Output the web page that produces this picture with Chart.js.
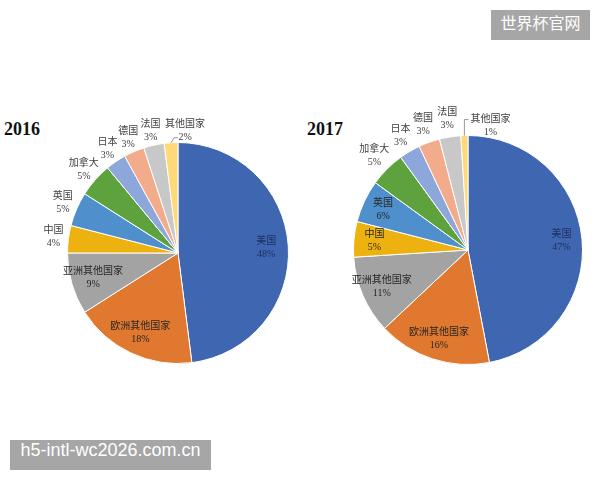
<!DOCTYPE html>
<html>
<head>
<meta charset="utf-8">
<script src="https://cdn.jsdelivr.net/npm/chart.js@4"></script>
<style>
  body { margin: 0; background: #fff; width: 600px; height: 480px; position: relative; overflow: hidden; }
  .box { position: absolute; }
  .year { position: absolute; font: bold 18px 'Liberation Serif', serif; color: #111; }
  .badge { position: absolute; background: #a6a6a6; color: #fff; text-align: center; }
</style>
</head>
<body>
<div class="year" style="left:4px; top:119px;">2016</div>
<div class="year" style="left:307px; top:119px;">2017</div>
<div class="box" style="left:0; top:100px; width:300px; height:290px;"><canvas id="pie-2016"></canvas></div>
<div class="box" style="left:300px; top:100px; width:300px; height:290px;"><canvas id="pie-2017"></canvas></div>
<div class="badge" style="left:491px; top:10px; width:99px; height:30px; line-height:30px; font:16px 'Noto Sans CJK SC', sans-serif;">世界杯官网</div>
<div class="badge" style="left:10px; top:440px; width:201px; height:30px; line-height:30px; font:18px 'Liberation Sans', sans-serif;">h5-intl-wc2026.com.cn</div>
<script>
// share of respondents by country, clockwise from 12 o'clock
const categories = ['美国', '欧洲其他国家', '亚洲其他国家', '中国', '英国', '加拿大', '日本', '德国', '法国', '其他国家'];
const share2016 = [48, 18, 9, 4, 5, 5, 3, 3, 3, 2];
const share2017 = [47, 16, 11, 5, 6, 5, 3, 3, 3, 1];
const sliceColors = ['#3f67b1', '#e0782f', '#a3a3a3', '#edb20f', '#4e8fcc', '#5ea23e', '#8ea7da', '#f2ac8c', '#c8c8c8', '#ffd87a'];

const labelFont = "10px 'Liberation Serif', 'Noto Sans CJK SC', serif";

// draws "name / value%" for every slice, inside or just outside the pie
const sliceLabels = {
  id: 'sliceLabels',
  afterDatasetsDraw(chart, args, opts) {
    const ctx = chart.ctx;
    const values = chart.data.datasets[0].data;
    ctx.save();
    ctx.font = labelFont;
    ctx.textAlign = 'center';
    ctx.textBaseline = 'middle';
    chart.getDatasetMeta(0).data.forEach((arc, i) => {
      const { x, y, startAngle, endAngle, outerRadius } =
        arc.getProps(['x', 'y', 'startAngle', 'endAngle', 'outerRadius'], true);
      const mid = (startAngle + endAngle) / 2;
      const cos = Math.cos(mid), sin = Math.sin(mid);
      let lx, ly;
      if (opts.leader && opts.leader.index === i) {
        const L = opts.leader;
        const ex = x + cos * outerRadius, ey = y + sin * outerRadius;
        ctx.strokeStyle = '#7f7f7f';
        ctx.lineWidth = 0.8;
        ctx.beginPath();
        ctx.moveTo(ex, ey);
        ctx.lineTo(ex + L.elbow[0], ey + L.elbow[1]);
        ctx.lineTo(ex + L.end[0], ey + L.end[1]);
        ctx.stroke();
        lx = ex + L.text[0];
        ly = ey + L.text[1];
        ctx.fillStyle = '#404040';
      } else if (i < opts.insideCount) {
        const r = outerRadius * opts.insideRatio;
        lx = x + cos * r;
        ly = y + sin * r;
        ctx.fillStyle = i === 0 ? '#1c2d5a' : '#262626';
      } else {
        const r = outerRadius + opts.outsideGap;
        lx = x + cos * r;
        ly = y + sin * r;
        ctx.fillStyle = '#404040';
      }
      ctx.fillText(categories[i], lx, ly - 6.5);
      ctx.fillText(values[i] + '%', lx, ly + 6.5);
    });
    ctx.restore();
  }
};

function makePie(id, data, padding, labelOpts) {
  return new Chart(document.getElementById(id), {
    type: 'pie',
    data: {
      labels: categories,
      datasets: [{
        data,
        backgroundColor: sliceColors,
        borderColor: '#ffffff',
        borderWidth: 1
      }]
    },
    options: {
      responsive: true,
      maintainAspectRatio: false,
      animation: false,
      layout: { padding },
      plugins: {
        legend: { display: false },
        tooltip: { enabled: false },
        sliceLabels: labelOpts
      }
    },
    plugins: [sliceLabels]
  });
}

makePie('pie-2016', share2016,
  { left: 67, right: 11, top: 42, bottom: 26 },
  { insideCount: 3, insideRatio: 0.8, outsideGap: 15, leader: { index: 9, elbow: [3, -5], end: [7, -5], text: [14, -12] } });

makePie('pie-2017', share2017,
  { left: 53, right: 17, top: 35, bottom: 25 },
  { insideCount: 5, insideRatio: 0.82, outsideGap: 18, leader: { index: 9, elbow: [0, -16], end: [4, -16], text: [26, -10] } });
</script>
</body>
</html>
